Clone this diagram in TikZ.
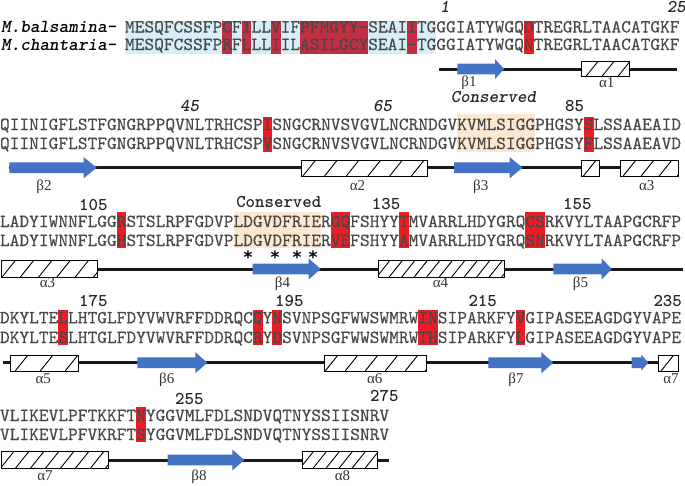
\documentclass[tikz,border=0pt]{standalone}
\usepackage{fontspec}
\newfontfamily\grk{Liberation Serif}
\newfontfamily\stf{DejaVu Sans}
\newfontfamily\seqf{lmmono10-regular.otf}[FakeBold=0.35]
\definecolor{seqtxt}{RGB}{72,72,72}
\definecolor{hlblue}{RGB}{214,238,248}
\definecolor{hlcrim}{RGB}{196,46,66}
\definecolor{hlred}{RGB}{236,28,36}
\definecolor{hlbeige}{RGB}{252,232,206}
\definecolor{strandblue}{RGB}{68,114,196}
\newcommand\seqloop[1]{\ifx#1\relax\else\makebox[9.73pt][c]{#1}\expandafter\seqloop\fi}
\newcommand\seqtxt[1]{\seqloop#1\relax}
\newcommand\hl[6]{\fill[#1] ({#2+#3*9.73},#5) rectangle ({#2+(#3+#4)*9.73},#6);}
% name, x1, x2, top, bottom, spacing, offset
\newcommand\helix[7]{%
  \node[helixnode, minimum width={#3-#2}, minimum height={#5-#4}, anchor=north west] (#1) at (#2,#4) {};
  \begin{scope}
    \clip (#1.south west) rectangle (#1.north east);
    \foreach \k in {0,...,14}{
      \draw[hatchline] ({#2+#7+\k*#6-0.8*(#5-#4)},#5) -- ++({0.8*(#5-#4)},{-(#5-#4)});
    }
  \end{scope}
  \draw[helixedge] (#1.south west) rectangle (#1.north east);
}
% name, x1, tip, yc, head length, head half width
\newcommand\strand[6]{%
  \fill[strandblue] (#2,{#4-5.3}) coordinate (#1-tail) -- ({#3-#5},{#4-5.3}) -- ({#3-#5},{#4-#6})
    -- (#3,#4) coordinate (#1) -- ({#3-#5},{#4+#6}) -- ({#3-#5},{#4+5.3}) -- (#2,{#4+5.3}) -- cycle;
}
\tikzset{
  seq/.style={font=\seqf\fontsize{18.5}{20}\selectfont, text=seqtxt, inner sep=0pt, outer sep=0pt, anchor=base west},
  spname/.style={font=\fontsize{18.3}{20}\selectfont\ttfamily\bfseries\itshape, text=black, inner sep=0pt, anchor=base west},
  numit/.style={font=\fontsize{18}{20}\selectfont\ttfamily\bfseries\itshape, text=black!85, inner sep=0pt, anchor=base west},
  numup/.style={font=\fontsize{18}{20}\selectfont\ttfamily\bfseries, text=black!85, inner sep=0pt, anchor=base west},
  glabel/.style={font=\grk\fontsize{15}{15}\selectfont, text=black!80, inner sep=0pt, anchor=base},
  starlab/.style={font=\stf\bfseries\fontsize{17}{17}\selectfont, text=black, inner sep=0pt, anchor=base},
  helixnode/.style={draw=black, fill=white, line width=1pt, inner sep=0pt, outer sep=0pt},
  helixedge/.style={draw=black, line width=1pt},
  hatchline/.style={draw=black, line width=0.9pt},
  backbone/.style={draw=black!90, line width=3pt},
}
\begin{document}
\begin{tikzpicture}[x=1pt,y=-1pt]
\useasboundingbox (0,0) rectangle (685,485);
\fill[white] (0,0) rectangle (685,485);

% ---------------- Block 1 ----------------
\hl{hlblue}{125}{0}{32}{20.7}{54}
\hl{hlcrim}{125}{10}{1}{20.7}{54}
\hl{hlcrim}{125}{12}{1}{20.7}{54}
\hl{hlcrim}{125}{15}{1}{20.7}{54}
\hl{hlcrim}{125}{18}{7}{20.7}{54}
\hl{hlcrim}{125}{29}{1}{20.7}{54}
\hl{hlred}{125}{41}{1}{20.7}{54}
\node[spname] (nb) at (1,32.5) {M.balsamina-};
\node[spname] (nc) at (1,50) {M.chantaria-};
\node[seq] (s1a) at (125,32.5) {\seqtxt{MESQFCSSFPCFILLVIFPFMGYY-SEAIITGGGIATYWGQDTREGRLTAACATGKF}};
\node[seq] (s1b) at (125,50) {\seqtxt{MESQFCSSFPRFLLLIILASILGCYSEAI-TGGGIATYWGQNTREGRLTAACATGKF}};
\node[numit] (n1) at (440,12.7) {1};
\node[numit, anchor=base east] (n25) at (686,12.7) {25};
\coordinate (b1s) at (439,69);
\coordinate (b1e) at (676.7,69);
\draw[backbone] (b1s) -- (b1e);
\strand{beta1}{457.3}{504}{69}{9}{10}
\helix{alpha1}{581.7}{629.3}{61}{76.7}{16}{16.6}
\node[glabel] (lb1) at (469,86) {β1};
\node[glabel] (la1) at (606.7,87) {α1};

% ---------------- Block 2 ----------------
\hl{hlred}{0}{27}{1}{116.5}{152}
\hl{hlbeige}{0}{47}{8}{114}{152}
\hl{hlred}{0}{60}{1}{116.5}{152}
\node[seq] (s2a) at (0,130) {\seqtxt{QIINIGFLSTFGNGRPPQVNLTRHCSPISNGCRNVSVGVLNCRNDGVKVMLSIGGPHGSYSLSSAAEAID}};
\node[seq] (s2b) at (0,149) {\seqtxt{QIINIGFLSTFGNGRPPQVNLTRHCSPVSNGCRNVSVGVLNCRNDGVKVMLSIGGPHGSYFLSSAAEAVD}};
\node[numit] (n45) at (180,111.3) {45};
\node[numit] (n65) at (373,111.3) {65};
\node[numup] (n85) at (565,111.3) {85};
\node[numit, anchor=base] (cons1) at (493.5,102.5) {Conserved};
\coordinate (b2s) at (9.3,167.7);
\coordinate (b2e) at (678.3,167.7);
\draw[backbone] (b2s) -- (b2e);
\strand{beta2}{9.3}{96.7}{167.7}{13}{10.5}
\helix{alpha2}{301.7}{427.3}{160}{176}{21.7}{14}
\helix{hsmall}{581.7}{599.3}{160}{176}{40}{14.5}
\strand{beta3}{454}{522.7}{167.7}{13}{10.5}
\helix{alpha3a}{620}{678.3}{160}{176}{18}{16}
\node[glabel] (lb2) at (44,190) {β2};
\node[glabel] (la2) at (357.5,190) {α2};
\node[glabel] (lb3) at (480.8,190) {β3};
\node[glabel] (la3a) at (646.7,190) {α3};

% ---------------- Block 3 ----------------
\hl{hlred}{0}{12}{1}{211.7}{248.3}
\hl{hlbeige}{0}{24}{9}{211.7}{248.3}
\hl{hlred}{0}{34}{2}{211.7}{248.3}
\hl{hlred}{0}{41}{1}{211.7}{248.3}
\hl{hlred}{0}{54}{2}{211.7}{248.3}
\node[seq] (s3a) at (0,227) {\seqtxt{LADYIWNNFLGGRSTSLRPFGDVPLDGVDFRIERGQFSHYYTMVARRLHDYGRQCSRKVYLTAAPGCRFP}};
\node[seq] (s3b) at (0,246) {\seqtxt{LADYIWNNFLGGHSTSLRPFGDVPLDGVDFRIERVEFSHYYAMVARRLHDYGRQSNRKVYLTAAPGCRFP}};
\node[numup] (n105) at (79,210) {105};
\node[numup, anchor=base] (cons2) at (278.8,207.3) {Conserved};
\node[numup] (n135) at (371.7,209.3) {135};
\node[numup] (n155) at (563,209.3) {155};
\node[starlab] (st1) at (248,263) {*};
\node[starlab] (st2) at (275,263) {*};
\node[starlab] (st3) at (297,263) {*};
\node[starlab] (st4) at (313,263) {*};
\coordinate (b3s) at (1.7,269);
\coordinate (b3e) at (683,269);
\draw[backbone] (b3s) -- (b3e);
\helix{alpha3b}{1.7}{97.7}{260}{277.3}{18.3}{14}
\strand{beta4}{252.7}{320.7}{269}{12}{10.5}
\helix{alpha4}{378.3}{504}{260}{277.3}{12.5}{12}
\strand{beta5}{553.3}{611.7}{269}{10}{10.5}
\node[glabel] (la3b) at (47.5,287) {α3};
\node[glabel] (lb4) at (282.5,287) {β4};
\node[glabel] (la4) at (440.5,287) {α4};
\node[glabel] (lb5) at (580.5,287) {β5};

% ---------------- Block 4 ----------------
\hl{hlred}{0}{6}{1}{310}{345}
\hl{hlred}{0}{26}{1}{310}{345}
\hl{hlred}{0}{28}{1}{310}{345}
\hl{hlred}{0}{43}{2}{310}{345}
\hl{hlred}{0}{53}{1}{310}{345}
\node[seq] (s4a) at (0,323.3) {\seqtxt{DKYLTELLHTGLFDYVWVRFFDDRQCQYNSVNPSGFWWSWMRWINSIPARKFYVGIPASEEAGDGYVAPE}};
\node[seq] (s4b) at (0,343) {\seqtxt{DKYLTESLHTGLFDYVWVRFFDDRQCRYDSVNPSGFWWSWMRWTHSIPARKFYLGIPASEEAGDGYVAPE}};
\node[numup] (n175) at (79,306.7) {175};
\node[numup] (n195) at (275,306.7) {195};
\node[numup] (n215) at (468.3,306.7) {215};
\node[numup] (n235) at (653.3,306.7) {235};
\coordinate (b4s) at (2.7,362.7);
\coordinate (b4e) at (678.3,362.7);
\draw[backbone] (b4s) -- (b4e);
\helix{alpha5}{10}{78.3}{355}{371}{25}{18}
\strand{beta6}{137.3}{207.3}{362.7}{12}{10.5}
\helix{alpha6}{324}{426.7}{355}{371}{20}{14}
\strand{beta7}{488.3}{553.3}{362.7}{12}{10.5}
\strand{betas}{631.7}{648.3}{362.7}{7}{8}
\helix{alpha7a}{658.3}{678.3}{355}{371}{40}{15.5}
\node[glabel] (la5) at (43.3,383) {α5};
\node[glabel] (lb6) at (166.7,383) {β6};
\node[glabel] (la6) at (374.7,383) {α6};
\node[glabel] (lb7) at (516,383) {β7};
\node[glabel] (la7a) at (671,383) {α7};

% ---------------- Block 5 ----------------
\hl{hlred}{0}{14}{1}{406.7}{441.7}
\node[seq] (s5a) at (0,421) {\seqtxt{VLIKEVLPFTKKFTNYGGVMLFDLSNDVQTNYSSIISNRV}};
\node[seq] (s5b) at (0,440) {\seqtxt{VLIKEVLPFVKRFTSYGGVMLFDLSNDVQTNYSSIISNRV}};
\node[numup] (n255) at (175,404) {255};
\node[numup] (n275) at (370,401) {275};
\coordinate (b5s) at (1.7,460);
\coordinate (b5e) at (389,460);
\draw[backbone] (b5s) -- (b5e);
\helix{alpha7b}{1.7}{108.3}{451.7}{468.3}{15}{12}
\strand{beta8}{167.7}{244.3}{460}{12}{10.5}
\helix{alpha8}{302.3}{377.7}{451.7}{468.3}{13}{11}
\node[glabel] (la7b) at (45,480) {α7};
\node[glabel] (lb8) at (199,480) {β8};
\node[glabel] (la8) at (342.5,480) {α8};
\end{tikzpicture}
\end{document}
